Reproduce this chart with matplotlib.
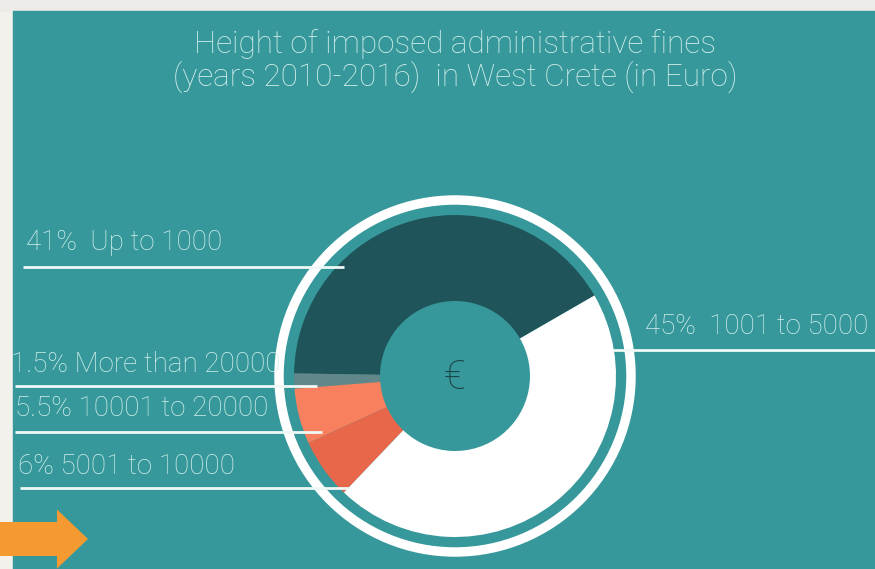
import matplotlib
matplotlib.use("Agg")
import matplotlib.pyplot as plt
from matplotlib.patches import Rectangle, Circle, FancyArrow

# ---- data ----
categories = ["Up to 1000", "More than 20000", "10001 to 20000", "5001 to 10000", "1001 to 5000"]
shares = [41, 1.5, 5.5, 6, 45]
share_labels = ["41%", "1.5%", "5.5%", "6%", "45%"]
colors = ["#1f555a", "#62878a", "#f9805f", "#e8674a", "#ffffff"]

title_lines = ["Height of imposed administrative fines",
               "(years 2010-2016)  in West Crete (in Euro)"]

W, H = 875, 569
BG = "#36989a"
TXT = "#d3efec"
FONT = ["Roboto", "DejaVu Sans"]

fig = plt.figure(figsize=(W / 100, H / 100), dpi=100, facecolor="#f3f1eb")
ax = fig.add_axes([0, 0, 1, 1])
ax.set_axis_off()

def Y(p):
    return H - p

# slide background
ax.add_patch(Rectangle((0, Y(11)), W, 11, color="#ecebe7", zorder=0))
ax.add_patch(Rectangle((13, 0), W - 13, Y(11), color=BG, zorder=0))

cx, cy = 455, Y(376)
R_out, R_in = 161, 75

ax.pie(shares, colors=colors, startangle=30, counterclock=True,
       center=(cx, cy), radius=R_out,
       wedgeprops=dict(width=R_out - R_in, linewidth=0, antialiased=True))

# outer white ring
ax.add_patch(Circle((cx, cy), 176, fill=False, edgecolor="white", linewidth=6.8, zorder=3))

# euro sign
ax.text(cx, cy - 2, "€", ha="center", va="center", fontsize=29, color="#1a4245",
        family=FONT, fontweight="light", zorder=4)

# title
ax.text(455, Y(44), title_lines[0], ha="center", va="center", fontsize=22.7,
        color=TXT, family=FONT, fontweight="light")
ax.text(455, Y(77), title_lines[1], ha="center", va="center", fontsize=22.7,
        color=TXT, family=FONT, fontweight="light")

# labels with underline leaders (layout positions)
label_layout = {
    0: dict(tx=26, ty=242, lx0=23, lx1=344, ly=267),
    1: dict(tx=11, ty=364, lx0=15, lx1=317, ly=386),
    2: dict(tx=15, ty=409, lx0=15, lx1=322, ly=432),
    3: dict(tx=18, ty=466, lx0=20, lx1=350, ly=488),
    4: dict(tx=645, ty=327, lx0=612, lx1=875, ly=350),
}
for i, (cat, lab) in enumerate(zip(categories, share_labels)):
    L = label_layout[i]
    sep = "  " if i in (0, 4) else " "
    ax.text(L["tx"], Y(L["ty"]), f"{lab}{sep}{cat}", ha="left", va="center",
            fontsize=20, color=TXT, family=FONT, fontweight="light", zorder=5)
    ax.plot([L["lx0"], L["lx1"]], [Y(L["ly"]), Y(L["ly"])], color="#eef8f6",
            linewidth=2.0, solid_capstyle="butt", zorder=5)

# decorative orange arrow
ax.add_patch(FancyArrow(-5, Y(539), 93, 0, width=34, head_width=59, head_length=31,
                        length_includes_head=True, color="#f59a30", zorder=6,
                        linewidth=0))

ax.set_xlim(0, W)
ax.set_ylim(0, H)
ax.set_aspect("auto")

fig.savefig("out.png", dpi=100, facecolor=fig.get_facecolor())
